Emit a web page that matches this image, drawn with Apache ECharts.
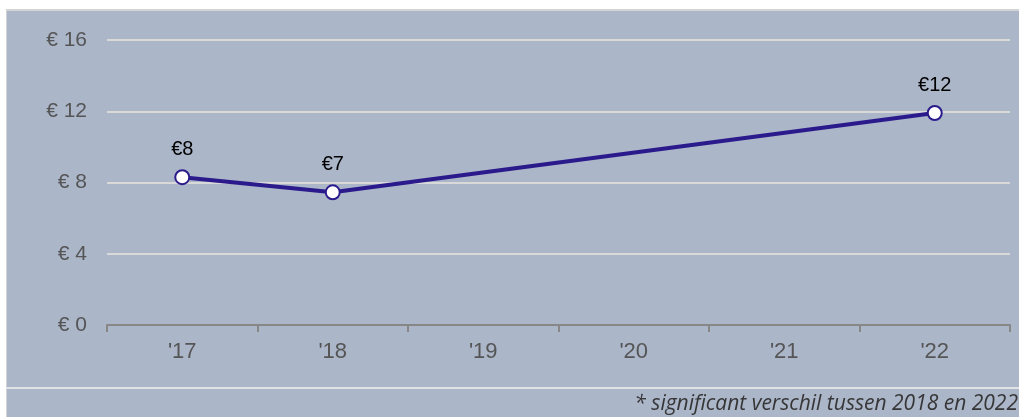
<!DOCTYPE html>
<html>
<head>
<meta charset="utf-8">
<script src="https://cdn.jsdelivr.net/npm/echarts@6/dist/echarts.min.js"></script>
<style>
html,body{margin:0;padding:0;background:#fff;}
#c{width:1019px;height:417px;}
</style>
</head>
<body>
<div id="c"></div>
<script>
const categories = ["'17", "'18", "'19", "'20", "'21", "'22"];
const values = [8.3, 7.45, null, null, null, 11.9];
const yTicks = [0, 4, 8, 12, 16];
const footnote = "* significant verschil tussen 2018 en 2022";

const chart = echarts.init(document.getElementById('c'));
chart.setOption({
  animation: false,
  backgroundColor: '#ffffff',
  graphic: [
    { type: 'rect', z: -10, shape: { x: 6, y: 9, width: 1013, height: 408 },
      style: { fill: '#abb6c9', stroke: null } },
    { type: 'line', z: -9, shape: { x1: 6, y1: 10, x2: 1019, y2: 10 },
      style: { stroke: '#d3d3d3', lineWidth: 2 } },
    { type: 'line', z: -9, shape: { x1: 6.5, y1: 9, x2: 6.5, y2: 417 },
      style: { stroke: '#d3d3d3', lineWidth: 1 } },
    { type: 'line', z: -9, shape: { x1: 6, y1: 388, x2: 1019, y2: 388 },
      style: { stroke: '#dfe2e6', lineWidth: 2 } },
    { type: 'text', x: 1018, y: 404,
      style: { text: footnote, font: 'italic 21px "Open Sans"', fill: '#363636',
        textAlign: 'right', textVerticalAlign: 'middle' } }
  ],
  grid: { left: 107, right: 9, top: 40, bottom: 92 },
  xAxis: {
    type: 'category',
    data: categories,
    boundaryGap: true,
    axisLine: { lineStyle: { color: '#878787', width: 2 } },
    axisTick: { show: true, length: 7, lineStyle: { color: '#878787', width: 2 } },
    axisLabel: { color: '#555555', fontSize: 22, fontFamily: 'Liberation Sans', margin: 16 },
    splitLine: { show: false }
  },
  yAxis: {
    type: 'value',
    min: yTicks[0], max: yTicks[yTicks.length - 1], interval: 4,
    axisLine: { show: false },
    axisTick: { show: false },
    axisLabel: { color: '#555555', fontSize: 21, fontFamily: 'Liberation Sans', margin: 20,
      formatter: v => '€ ' + v },
    splitLine: { lineStyle: { color: '#d9d9d9', width: 2 } }
  },
  series: [{
    type: 'line',
    data: values,
    connectNulls: true,
    symbol: 'circle',
    symbolSize: 14,
    lineStyle: { color: '#2a1a8c', width: 4 },
    itemStyle: { color: '#ffffff', borderColor: '#2a1a8c', borderWidth: 2 },
    label: {
      show: true, position: 'top', distance: 10,
      color: '#000000', fontSize: 20, fontFamily: 'Liberation Sans',
      formatter: p => '€' + Math.round(p.value)
    }
  }]
});
</script>
</body>
</html>
